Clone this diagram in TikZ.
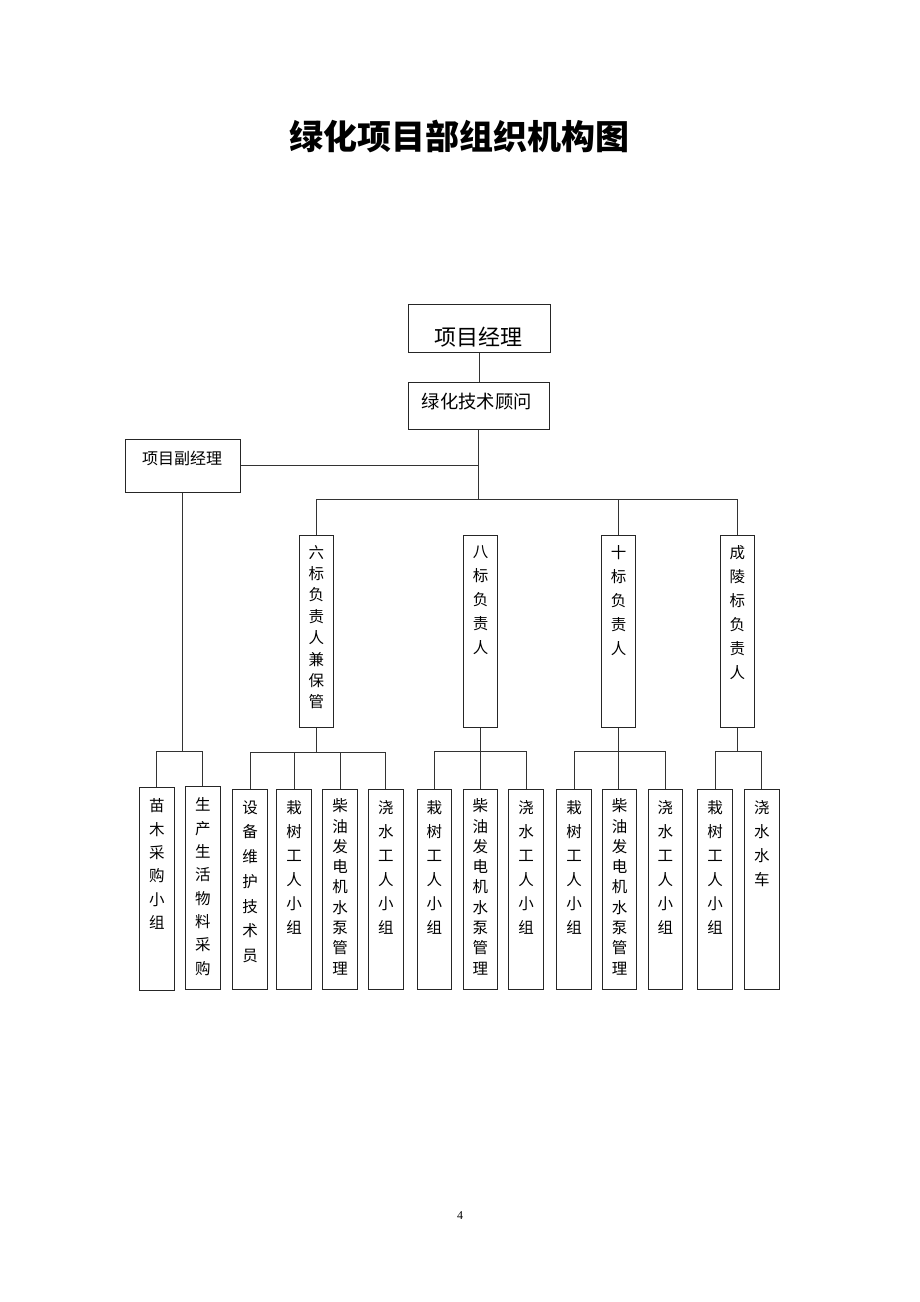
\documentclass[tikz,border=0pt]{standalone}
\usepackage{fontspec}
\setmainfont{Liberation Serif}
\newfontfamily\cjk{Noto Sans CJK SC}
\begin{document}
\begin{tikzpicture}[x=1pt,y=-1pt]
\tikzset{
  bx/.style={draw=black!85, line width=1pt, inner sep=0pt},
  ln/.style={draw=black!80, line width=0.9pt},
  vt/.style={inner sep=0pt, anchor=north, align=center, font=\cjk\fontsize{15.5}{24}\selectfont},
  vtb/.style={vt, font=\cjk\fontsize{15.5}{24}\selectfont},
  vtn/.style={vt, font=\cjk\fontsize{15.5}{20.3}\selectfont},
  ht/.style={inner sep=0pt}
}
\useasboundingbox (0,0) rectangle (920,1302);
\fill[white] (0,0) rectangle (920,1302);

% title
\node[ht, font=\cjk\bfseries\fontsize{34}{40}\selectfont] (title) at (459,136.7) {绿化项目部组织机构图};

% top boxes
\node[bx, minimum width=142pt, minimum height=48pt] (pm) at (479,328) {};
\node[ht, font=\cjk\fontsize{22}{26}\selectfont] (pmt) at (478.7,336.7) {项目经理};
\node[bx, minimum width=141pt, minimum height=47pt] (adv) at (478.5,405.5) {};
\node[ht, font=\cjk\fontsize{18.3}{22}\selectfont] (advt) at (476.7,401.7) {绿化技术顾问};
\node[bx, minimum width=115pt, minimum height=53pt] (dpm) at (182.5,465.5) {};
\node[ht, font=\cjk\fontsize{16}{20}\selectfont] (dpmt) at (182.2,458.3) {项目副经理};

% section managers
\node[bx, minimum width=34.5pt, minimum height=192pt] (b6) at (316.3,631) {};
\node[vt, font=\cjk\fontsize{15.5}{21.4}\selectfont] (b6t) at ([yshift=-10.5pt]b6.north) {六\\标\\负\\责\\人\\兼\\保\\管};
\node[bx, minimum width=34.5pt, minimum height=192pt] (b8) at (480.5,631) {};
\node[vt] (b8t) at ([yshift=-10.5pt]b8.north) {八\\标\\负\\责\\人};
\node[bx, minimum width=34.5pt, minimum height=192pt] (b10) at (618.5,631) {};
\node[vt] (b10t) at ([yshift=-10.5pt]b10.north) {十\\标\\负\\责\\人};
\node[bx, minimum width=34.5pt, minimum height=192pt] (bcl) at (737.3,631) {};
\node[vt] (bclt) at ([yshift=-10.5pt]bcl.north) {成\\陵\\标\\负\\责\\人};

% bottom boxes
\node[bx, minimum width=34.5pt, minimum height=203pt] (mm) at (156.9,889.2) {};
\node[vt, font=\cjk\fontsize{15.5}{23.3}\selectfont] (mmt) at ([yshift=-11.5pt]mm.north) {苗\\木\\采\\购\\小\\组};
\node[bx, minimum width=34.5pt, minimum height=203pt] (sc) at (202.9,888.2) {};
\node[vt, font=\cjk\fontsize{15.5}{23.3}\selectfont] (sct) at ([yshift=-11.5pt]sc.north) {生\\产\\生\\活\\物\\料\\采\\购};

\node[bx, minimum width=34.5pt, minimum height=200pt] (sb) at (250.2,889.3) {};
\node[vt, font=\cjk\fontsize{15.5}{24.7}\selectfont] (sbt) at ([yshift=-11.5pt]sb.north) {设\\备\\维\\护\\技\\术\\员};
\node[bx, minimum width=34.5pt, minimum height=200pt] (z6) at (294.2,889) {};
\node[vtb] (z6t) at ([yshift=-11.5pt]z6.north) {栽\\树\\工\\人\\小\\组};
\node[bx, minimum width=34.5pt, minimum height=200pt] (c6) at (340.2,889) {};
\node[vtn] (c6t) at ([yshift=-10pt]c6.north) {柴\\油\\发\\电\\机\\水\\泵\\管\\理};
\node[bx, minimum width=34.5pt, minimum height=200pt] (w6) at (385.9,889) {};
\node[vtb] (w6t) at ([yshift=-11.5pt]w6.north) {浇\\水\\工\\人\\小\\组};

\node[bx, minimum width=34.5pt, minimum height=200pt] (z8) at (434.3,889) {};
\node[vtb] (z8t) at ([yshift=-11.5pt]z8.north) {栽\\树\\工\\人\\小\\组};
\node[bx, minimum width=34.5pt, minimum height=200pt] (c8) at (480.3,889) {};
\node[vtn] (c8t) at ([yshift=-10pt]c8.north) {柴\\油\\发\\电\\机\\水\\泵\\管\\理};
\node[bx, minimum width=34.5pt, minimum height=200pt] (w8) at (526,889) {};
\node[vtb] (w8t) at ([yshift=-11.5pt]w8.north) {浇\\水\\工\\人\\小\\组};

\node[bx, minimum width=34.5pt, minimum height=200pt] (z10) at (574,889) {};
\node[vtb] (z10t) at ([yshift=-11.5pt]z10.north) {栽\\树\\工\\人\\小\\组};
\node[bx, minimum width=34.5pt, minimum height=200pt] (c10) at (619.7,889) {};
\node[vtn] (c10t) at ([yshift=-10pt]c10.north) {柴\\油\\发\\电\\机\\水\\泵\\管\\理};
\node[bx, minimum width=34.5pt, minimum height=200pt] (w10) at (665.3,889) {};
\node[vtb] (w10t) at ([yshift=-11.5pt]w10.north) {浇\\水\\工\\人\\小\\组};

\node[bx, minimum width=34.5pt, minimum height=200pt] (zc) at (715,889) {};
\node[vtb] (zct) at ([yshift=-11.5pt]zc.north) {栽\\树\\工\\人\\小\\组};
\node[bx, minimum width=34.5pt, minimum height=200pt] (wc) at (761.8,889) {};
\node[vtb] (wct) at ([yshift=-11.5pt]wc.north) {浇\\水\\水\\车};

% page number
\node[ht, font=\fontsize{12}{14}\selectfont] (pg) at (460,1216) {4};

% bus coordinates
\coordinate (busT) at (479.5,499.3);
\coordinate (busA) at (182,751);
\coordinate (bus6) at (315.5,752.7);
\coordinate (bus8) at (480,751.7);
\coordinate (bus10) at (619,751.7);
\coordinate (busC) at (738,751);

% connectors
\draw[ln] (pm.south) -- (pm.south |- adv.north);
\draw[ln] (adv.south) -- (adv.south |- busT);
\draw[ln] (dpm.east) -- (dpm.east -| adv.south);
\draw[ln] (b6.north) |- (busT) -| (bcl.north);
\draw[ln] (b10.north) -- (b10.north |- busT);

\draw[ln] (dpm.south) -- (dpm.south |- busA);
\draw[ln] (mm.north) |- (busA) -| (sc.north);

\draw[ln] (b6.south) -- (b6.south |- bus6);
\draw[ln] (sb.north) |- (bus6) -| (w6.north);
\draw[ln] (z6.north) -- (z6.north |- bus6);
\draw[ln] (c6.north) -- (c6.north |- bus6);

\draw[ln] (b8.south) -- (b8.south |- c8.north);
\draw[ln] (z8.north) |- (bus8) -| (w8.north);

\draw[ln] (b10.south) -- (b10.south |- c10.north);
\draw[ln] (z10.north) |- (bus10) -| (w10.north);

\draw[ln] (bcl.south) -- (bcl.south |- busC);
\draw[ln] (zc.north) |- (busC) -| (wc.north);
\end{tikzpicture}
\end{document}
